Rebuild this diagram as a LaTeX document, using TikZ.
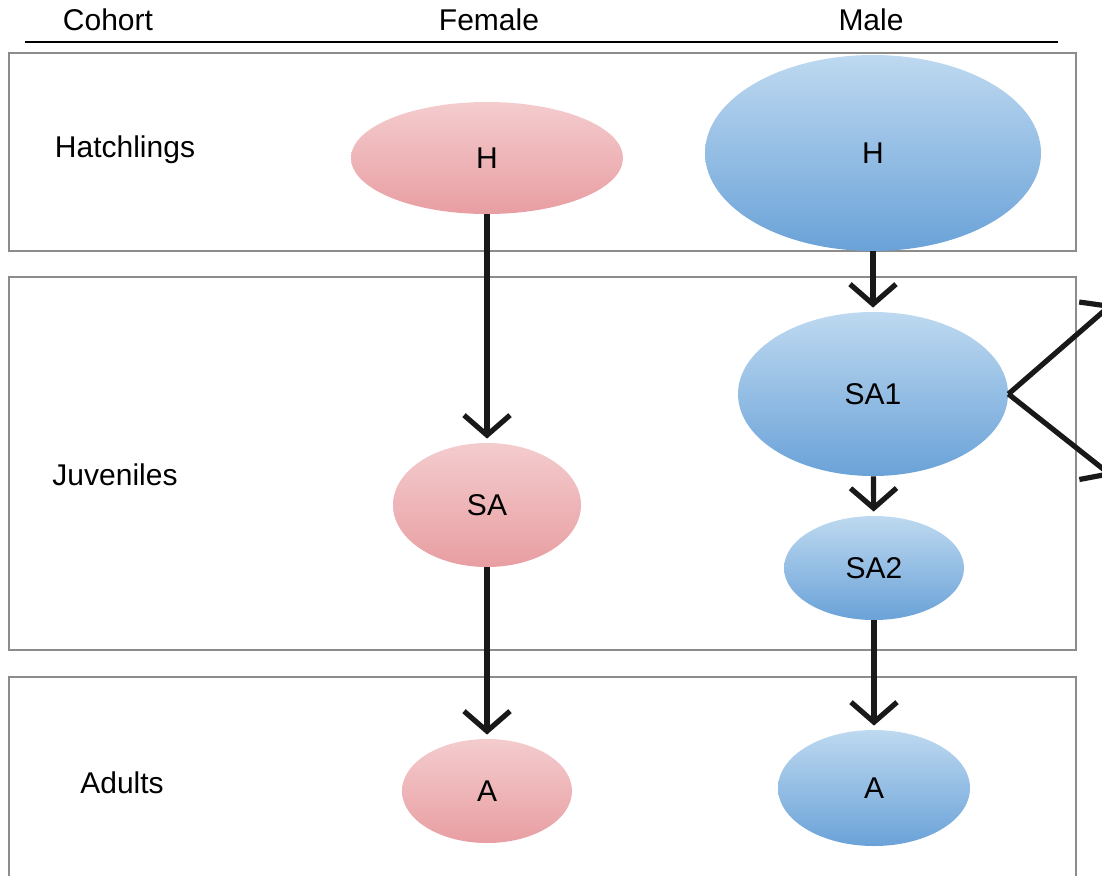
\documentclass[tikz,border=0pt]{standalone}
\usepackage{fontspec}
\setmainfont{Liberation Sans}
\usetikzlibrary{shapes.geometric,arrows.meta}
\definecolor{femtop}{RGB}{244,204,206}
\definecolor{fembot}{RGB}{232,158,162}
\definecolor{maltop}{RGB}{190,217,240}
\definecolor{malbot}{RGB}{106,162,216}
\tikzset{
  cohortbox/.style={ % frame round one cohort row
    draw=black!45, line width=1.2pt
  },
  fem/.style={ % female stage
    ellipse, inner sep=0pt, text=black,
    top color=femtop, bottom color=fembot
  },
  mal/.style={ % male stage
    ellipse, inner sep=0pt, text=black,
    top color=maltop, bottom color=malbot
  },
  stagearrow/.style={ % transition arrow
    line width=2.6pt, black!90,
    -{Straight Barb[length=10pt,width=23pt]}, shorten >=2pt
  },
  rowlabel/.style={font=\fontsize{15}{18}\selectfont}
}

\begin{document}
\begin{tikzpicture}[x=0.5pt, y=-0.5pt, font=\fontsize{15}{18}\selectfont]
  \useasboundingbox (0,0) rectangle (1102,875);
  \clip (0,0) rectangle (1102,875);

  % header
  \node (cohort_hdr) at (108,20) {Cohort};
  \node (female_hdr) at (489,20) {Female};
  \node (male_hdr) at (871,20) {Male};
  \draw[line width=1.2pt] (25,42) -- (1058,42);

  % cohort frames
  \draw[cohortbox] (9,53) rectangle (1076,251);
  \draw[cohortbox] (9,277) rectangle (1076,650);
  \draw[cohortbox] (9,677) rectangle (1076,890);

  \node[rowlabel] (hatch_label) at (125,150) {Hatchlings};
  \node[rowlabel] (juv_label) at (115,475) {Juveniles};
  \node[rowlabel] (adult_label) at (122,783) {Adults};

  % female line
  \node[fem, minimum width=136pt, minimum height=56pt] (fH) at (487,158) {H};
  \node[fem, minimum width=94pt, minimum height=62pt] (fSA) at (487,505) {SA};
  \node[fem, minimum width=85pt, minimum height=52pt] (fA) at (487,791) {A};

  % male line
  \node[mal, minimum width=168pt, minimum height=98pt] (mH) at (873,153) {H};
  \node[mal, minimum width=135pt, minimum height=82pt] (mSA1) at (873,394) {SA1};
  \node[mal, minimum width=90pt, minimum height=52pt] (mSA2) at (874,568) {SA2};
  \node[mal, minimum width=96pt, minimum height=58pt] (mA) at (874,788) {A};

  \coordinate (up_out) at (1112,304);
  \coordinate (down_out) at (1112,476);

  \draw[stagearrow] (fH) -- (fSA);
  \draw[stagearrow] (fSA) -- (fA);
  \draw[stagearrow] (mH) -- (mSA1);
  \draw[stagearrow] (mSA1) -- (mSA2);
  \draw[stagearrow] (mSA2) -- (mA);
  \draw[stagearrow, shorten >=0pt] (mSA1.east) -- (up_out);
  \draw[stagearrow, shorten >=0pt] (mSA1.east) -- (down_out);
\end{tikzpicture}
\end{document}
